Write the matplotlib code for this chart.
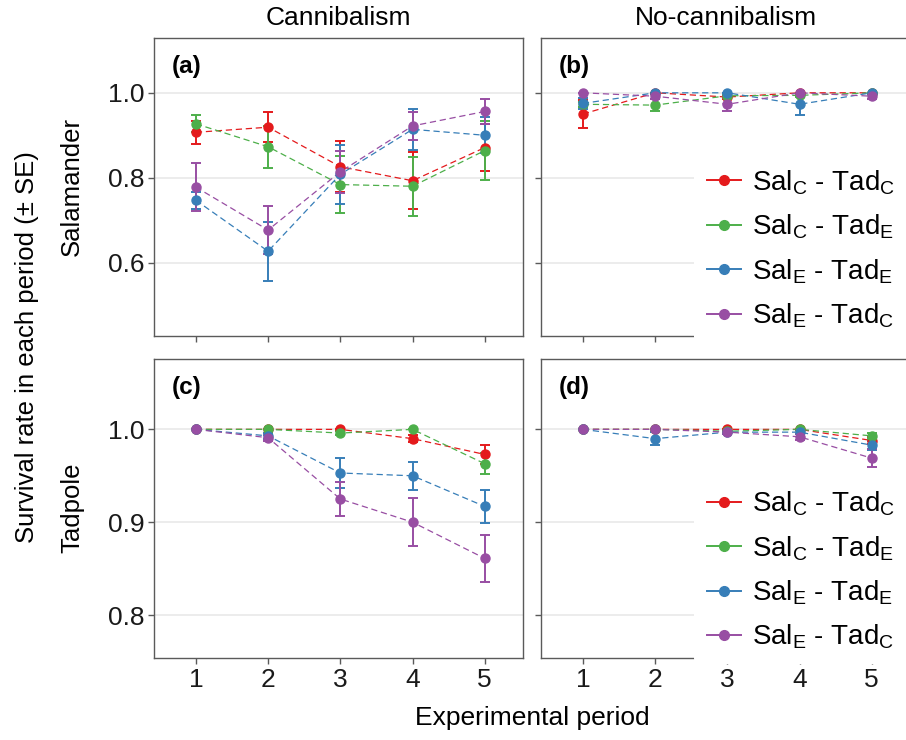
import matplotlib

matplotlib.use("Agg")
import matplotlib.pyplot as plt
from matplotlib.lines import Line2D

plt.rcParams["font.family"] = ["Liberation Sans", "DejaVu Sans"]
plt.rcParams["mathtext.fontset"] = "custom"
plt.rcParams["mathtext.rm"] = "Liberation Sans"

# periodos y grupos
periodos = [1, 2, 3, 4, 5]
etiquetas = [
    r"Sal$_\mathregular{C}$ - Tad$_\mathregular{C}$",
    r"Sal$_\mathregular{C}$ - Tad$_\mathregular{E}$",
    r"Sal$_\mathregular{E}$ - Tad$_\mathregular{E}$",
    r"Sal$_\mathregular{E}$ - Tad$_\mathregular{C}$",
]
colores = ["#E41A1C", "#4DAF4A", "#377EB8", "#984EA3"]

# (a) salamandra, canibalismo  -- filas: CC, CE, EE, EC
sal_can_media = [
    [0.907, 0.919, 0.826, 0.793, 0.871],
    [0.927, 0.873, 0.784, 0.780, 0.864],
    [0.747, 0.627, 0.808, 0.914, 0.900],
    [0.778, 0.677, 0.814, 0.922, 0.956],
]
sal_can_se = [
    [0.027, 0.035, 0.060, 0.067, 0.055],
    [0.020, 0.049, 0.067, 0.070, 0.070],
    [0.020, 0.069, 0.070, 0.048, 0.042],
    [0.056, 0.056, 0.050, 0.032, 0.029],
]

# (b) salamandra, sin canibalismo
sal_nocan_media = [
    [0.950, 1.000, 0.990, 1.000, 1.000],
    [0.973, 0.971, 0.993, 0.994, 1.000],
    [0.975, 1.000, 1.000, 0.973, 1.000],
    [1.000, 0.992, 0.973, 1.000, 0.992],
]
sal_nocan_se = [
    [0.033, 0.000, 0.004, 0.000, 0.000],
    [0.006, 0.014, 0.005, 0.004, 0.000],
    [0.012, 0.000, 0.000, 0.026, 0.000],
    [0.000, 0.006, 0.015, 0.000, 0.006],
]

# (c) renacuajo, canibalismo
tad_can_media = [
    [1.000, 1.000, 1.000, 0.990, 0.973],
    [1.000, 1.000, 0.996, 1.000, 0.963],
    [1.000, 0.993, 0.953, 0.950, 0.917],
    [1.000, 0.991, 0.925, 0.900, 0.861],
]
tad_can_se = [
    [0.000, 0.000, 0.000, 0.004, 0.010],
    [0.000, 0.000, 0.002, 0.000, 0.011],
    [0.000, 0.003, 0.016, 0.015, 0.018],
    [0.000, 0.003, 0.018, 0.026, 0.025],
]

# (d) renacuajo, sin canibalismo
tad_nocan_media = [
    [1.000, 1.000, 1.000, 1.000, 0.988],
    [1.000, 1.000, 0.998, 1.000, 0.993],
    [1.000, 0.990, 0.997, 0.997, 0.983],
    [1.000, 1.000, 0.997, 0.992, 0.969],
]
tad_nocan_se = [
    [0.000, 0.000, 0.000, 0.000, 0.004],
    [0.000, 0.000, 0.001, 0.000, 0.003],
    [0.000, 0.007, 0.002, 0.002, 0.005],
    [0.000, 0.000, 0.002, 0.003, 0.010],
]

W, H = 906, 740
fig = plt.figure(figsize=(W / 100, H / 100), dpi=100)


def caja(x0, y_top, x1, y_bot):
    return [x0 / W, 1 - y_bot / H, (x1 - x0) / W, (y_bot - y_top) / H]


paneles = [
    ("(a)", sal_can_media, sal_can_se, caja(154, 38, 523, 336), (0.4275, 1.129), [0.6, 0.8, 1.0], False),
    ("(b)", sal_nocan_media, sal_nocan_se, caja(541, 38, 910, 336), (0.4275, 1.129), [0.6, 0.8, 1.0], True),
    ("(c)", tad_can_media, tad_can_se, caja(154, 359, 523, 658), (0.7537, 1.0758), [0.8, 0.9, 1.0], False),
    ("(d)", tad_nocan_media, tad_nocan_se, caja(541, 359, 910, 658), (0.7537, 1.0758), [0.8, 0.9, 1.0], True),
]

for letra, medias, ses, pos, ylim, yticks, derecha in paneles:
    eje = fig.add_axes(pos)
    for media, se, color in zip(medias, ses, colores):
        eje.plot(periodos, media, color=color, lw=0.9, dashes=(5, 3), zorder=2)
        eje.errorbar(periodos, media, yerr=se, fmt="o", color=color, ms=6.5,
                     elinewidth=1.4, capsize=3.6, capthick=1.4, zorder=3)
    eje.set_xlim(0.42, 5.53)
    eje.set_ylim(*ylim)
    eje.set_xticks(periodos)
    eje.set_yticks(yticks)
    eje.yaxis.grid(True, color="#EBEBEB", lw=1.3, zorder=0)
    eje.set_axisbelow(True)
    for lado in eje.spines.values():
        lado.set_color("#5A5A5A")
        lado.set_linewidth(1.0)
    eje.tick_params(length=4, width=1, color="#5A5A5A", labelsize=19,
                    labelcolor="#1A1A1A", pad=3)
    if derecha:
        eje.tick_params(axis="y", labelleft=False)
    if pos[1] > 0.5:
        eje.tick_params(axis="x", labelbottom=False)
    eje.text(0.048, 0.905, letra, transform=eje.transAxes, fontsize=17.5,
             fontweight="bold", ha="left", va="center")
    if derecha:
        manejadores = [Line2D([], [], color=c, marker="o", ms=7, lw=1.4) for c in colores]
        eje.legend(manejadores, etiquetas, loc="upper left",
                   bbox_to_anchor=(0.415, 0.605), borderaxespad=0,
                   fontsize=20, handlelength=1.25, handletextpad=0.4,
                   labelspacing=0.56, borderpad=0.45, frameon=True,
                   facecolor="white", edgecolor="none", framealpha=1)

fig.text((154 + 523) / 2 / W, 1 - 18 / H, "Cannibalism", fontsize=19, ha="center", va="center")
fig.text((541 + 910) / 2 / W, 1 - 18 / H, "No-cannibalism", fontsize=19, ha="center", va="center")
fig.text(27 / W, 1 - 347 / H, "Survival rate in each period (± SE)", fontsize=18.5,
         rotation=90, ha="center", va="center")
fig.text(72 / W, 1 - 187 / H, "Salamander", fontsize=18.5, rotation=90, ha="center", va="center")
fig.text(72 / W, 1 - 508 / H, "Tadpole", fontsize=18.5, rotation=90, ha="center", va="center")
fig.text(532 / W, 1 - 718 / H, "Experimental period", fontsize=19, ha="center", va="center")

fig.savefig("out.png", dpi=100)
plt.close(fig)
